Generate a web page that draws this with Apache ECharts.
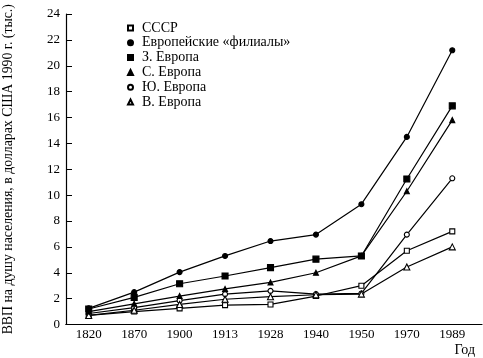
<!DOCTYPE html>
<html><head><meta charset="utf-8">
<script src="https://cdn.jsdelivr.net/npm/echarts@6/dist/echarts.min.js"></script>
<style>html,body{margin:0;padding:0;background:#fff}#c{width:483px;height:358px}</style>
</head><body><div id="c"></div>
<script>
const years = ['1820','1870','1900','1913','1928','1940','1950','1970','1989'];
const names = ['СССР','Европейские «филиалы»','З. Европа','С. Европа','Ю. Европа','В. Европа'];
const ussr      = [0.7, 1.0, 1.25, 1.5, 1.55, 2.2, 3.0, 5.7, 7.2];
const offshoots = [1.25, 2.5, 4.05, 5.3, 6.45, 6.95, 9.3, 14.5, 21.2];
const westEu    = [1.2, 2.1, 3.15, 3.75, 4.4, 5.05, 5.3, 11.25, 16.9];
const northEu   = [1.0, 1.6, 2.2, 2.75, 3.25, 4.0, 5.3, 10.3, 15.8];
const southEu   = [0.85, 1.3, 1.85, 2.35, 2.6, 2.35, 2.4, 6.95, 11.3];
const eastEu    = [0.7, 1.1, 1.55, 1.95, 2.15, 2.3, 2.35, 4.45, 6.0];
const yTicks = [0,2,4,6,8,10,12,14,16,18,20,22,24];

const FONT = '"Liberation Serif","DejaVu Serif",serif';
const styles = [
  {symbol:'rect', filled:false, size:5},
  {symbol:'circle', filled:true, size:5},
  {symbol:'rect', filled:true, size:6},
  {symbol:'triangle', filled:true, size:5},
  {symbol:'circle', filled:false, size:5},
  {symbol:'triangle', filled:false, size:6}
];
const values = [ussr, offshoots, westEu, northEu, southEu, eastEu];

const series = values.map((v,i)=>({
  name: names[i], type:'line', data: v,
  xAxisIndex:0, yAxisIndex:0,
  symbol: styles[i].symbol, symbolSize: styles[i].size,
  showAllSymbol:true,
  lineStyle:{color:'#000', width:1.2},
  itemStyle:{color: styles[i].filled ? '#000' : '#fff', borderColor:'#000', borderWidth:1.1},
  emphasis:{disabled:true},
  animation:false,
  z: 2 + (styles[i].filled?1:0)
}));

const chart = echarts.init(document.getElementById('c'), null, {renderer:'canvas'});
chart.setOption({
  animation:false,
  backgroundColor:'#fff',
  title:{text:'Год', right:3, bottom:-4, textStyle:{fontFamily:FONT, fontSize:14, fontWeight:'normal', color:'#000'}},
  legend:{
    orient:'vertical', left:122, top:16, itemWidth:5, itemHeight:5, itemGap:0.8,
    data: names.map((n,i)=>({name:n, icon: styles[i].symbol})),
    textStyle:{fontFamily:FONT, fontSize:14, lineHeight:14, color:'#000', padding:[0,0,0,4]},
    selectedMode:false
  },
  grid:[
    {left:66, top:14, right:8, bottom:33.5, outerBoundsMode:'none', containLabel:false},
    {left:66, top:14, right:1, bottom:33.5, outerBoundsMode:'none', containLabel:false}
  ],
  xAxis:[
    {type:'category', data:years, gridIndex:0, boundaryGap:true,
     axisLine:{lineStyle:{color:'#000', width:1.2}},
     axisTick:{inside:true, alignWithLabel:true, length:7, lineStyle:{color:'#000'}},
     axisLabel:{fontFamily:FONT, fontSize:13, color:'#000', margin:4},
     splitLine:{show:false}},
    {type:'value', gridIndex:1, min:0, max:1, show:true,
     axisLine:{show:true, onZero:false, lineStyle:{color:'#000', width:1.2}},
     axisTick:{show:false}, axisLabel:{show:false}, splitLine:{show:false}}
  ],
  yAxis:[
    {type:'value', gridIndex:0, min:0, max:24, interval:2,
     name:'ВВП на душу населения, в долларах США 1990 г. (тыс.)',
     nameLocation:'middle', nameRotate:90, nameGap:51,
     nameTextStyle:{fontFamily:FONT, fontSize:13.8, color:'#000'},
     axisLine:{show:true, lineStyle:{color:'#000', width:1.2}},
     axisTick:{show:true, inside:true, length:6, lineStyle:{color:'#000'}},
     axisLabel:{fontFamily:FONT, fontSize:13, color:'#000', margin:6,
       formatter:(v)=> yTicks.includes(v) ? String(v) : ''},
     splitLine:{show:false}},
    {type:'value', gridIndex:1, show:false, min:0, max:1}
  ],
  series: series
});
</script></body></html>
